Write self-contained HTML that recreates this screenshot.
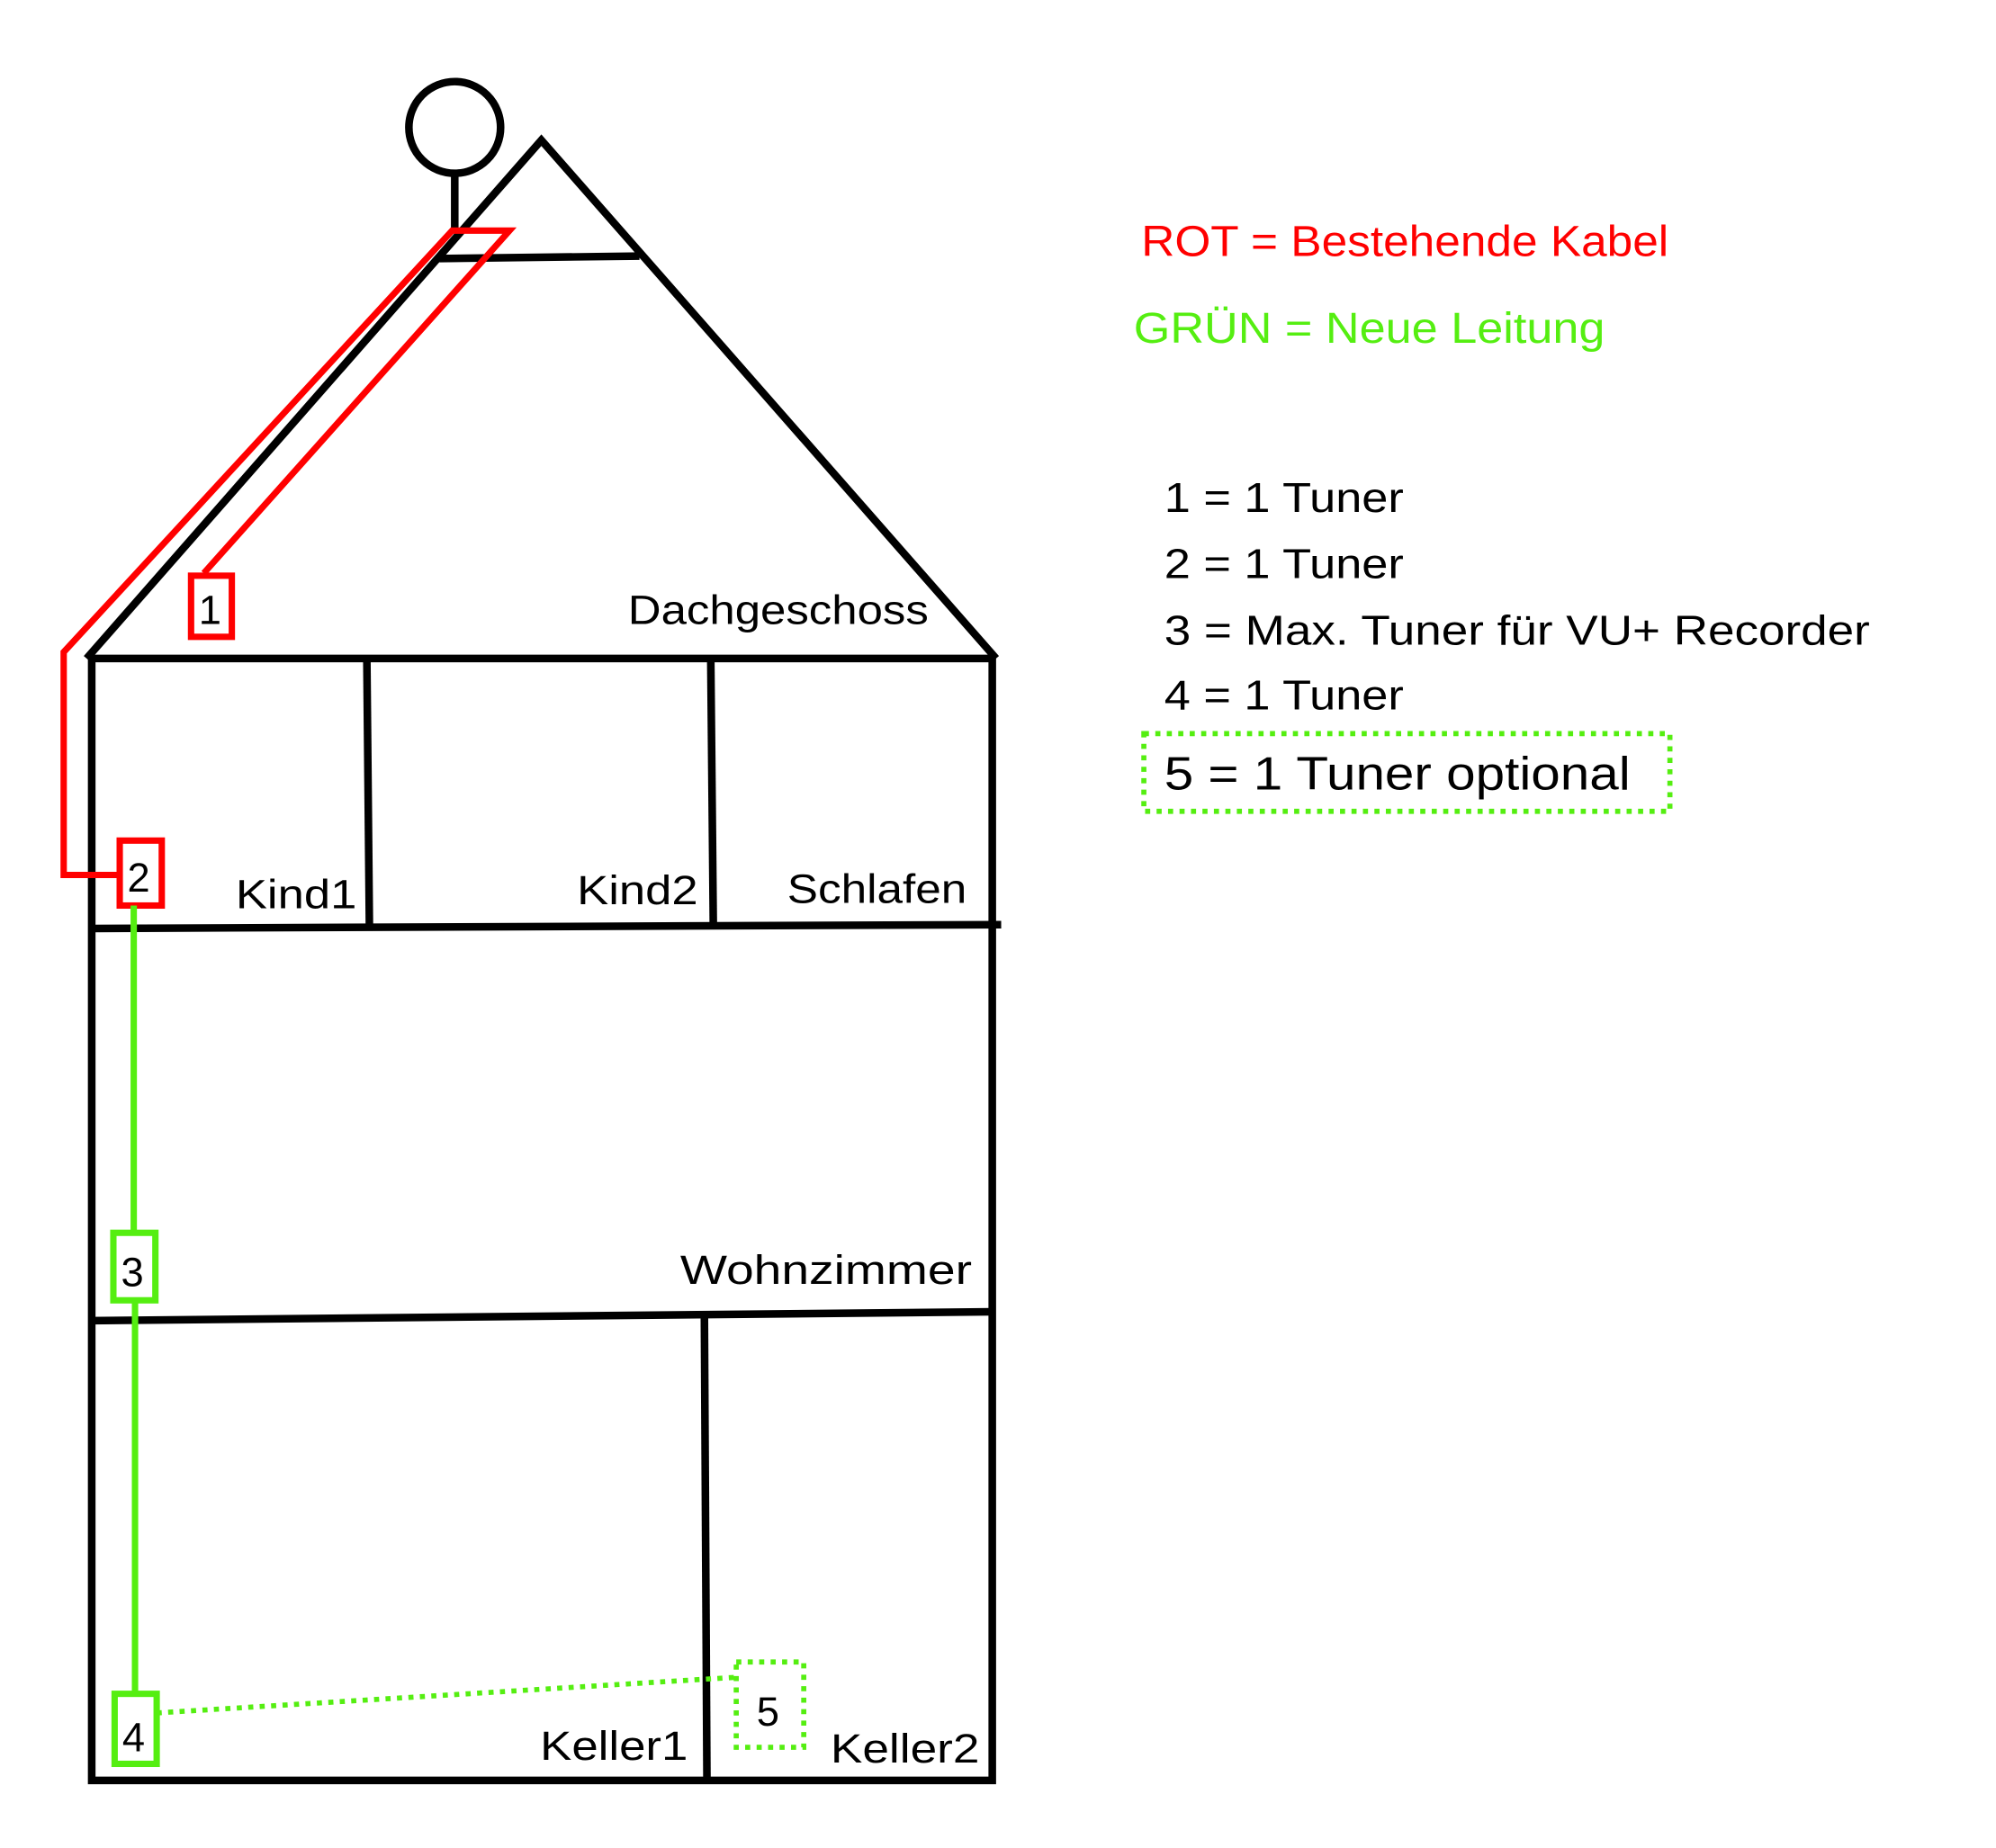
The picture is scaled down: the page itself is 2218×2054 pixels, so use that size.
<!DOCTYPE html>
<html><head><meta charset="utf-8"><style>html,body{margin:0;padding:0;background:#fff}svg{display:block}</style></head>
<body>
<svg width="2218" height="2054" viewBox="0 0 1567 1451" xmlns="http://www.w3.org/2000/svg" font-family="'Liberation Sans', 'DejaVu Sans', sans-serif">
<rect width="1567" height="1451" fill="#fff"/>
<g fill="none" stroke="#000" stroke-width="6">
<circle cx="357" cy="100" r="36"/>
<line x1="357" y1="136" x2="357" y2="182"/>
<polyline points="68,517 425,110 782,517"/>
<line x1="345" y1="203" x2="502" y2="201"/>
<rect x="72" y="517" width="707" height="881"/>
<line x1="72" y1="729" x2="786" y2="726"/>
<line x1="72" y1="1037" x2="779" y2="1030"/>
<line x1="288" y1="517" x2="290" y2="727"/>
<line x1="558" y1="517" x2="560" y2="727"/>
<line x1="553" y1="1035" x2="555" y2="1398"/>
</g>
<g fill="none" stroke="#f00" stroke-width="5">
<polyline points="160,450 400,181 355,181 50,512 50,687 95,687"/>
<rect x="150" y="452" width="32" height="48"/>
<rect x="94" y="660" width="33" height="51"/>
</g>
<g fill="none" stroke="#55ee11" stroke-width="5">
<line x1="105" y1="711" x2="105" y2="968"/>
<rect x="89" y="968" width="33" height="53"/>
<line x1="106" y1="1021" x2="106" y2="1330"/>
<rect x="90" y="1330" width="33" height="55"/>
</g>
<g fill="none" stroke="#55ee11" stroke-width="4" stroke-dasharray="4,5">
<line x1="123" y1="1345" x2="578" y2="1317"/>
<rect x="578" y="1305" width="53" height="67"/>
<rect x="898" y="576" width="413" height="61"/>
</g>
<g font-size="32" fill="#000">
<text x="156" y="490">1</text>
<text x="100" y="700">2</text>
<text x="95" y="1010">3</text>
<text x="96" y="1375">4</text>
<text x="594" y="1355">5</text>
<text x="493" y="490" textLength="236" lengthAdjust="spacingAndGlyphs">Dachgeschoss</text>
<text x="185" y="713" textLength="95" lengthAdjust="spacingAndGlyphs">Kind1</text>
<text x="453" y="710" textLength="95" lengthAdjust="spacingAndGlyphs">Kind2</text>
<text x="618" y="709" textLength="141" lengthAdjust="spacingAndGlyphs">Schlafen</text>
<text x="534" y="1008" textLength="229" lengthAdjust="spacingAndGlyphs">Wohnzimmer</text>
<text x="424" y="1382" textLength="116" lengthAdjust="spacingAndGlyphs">Keller1</text>
<text x="652" y="1384" textLength="117" lengthAdjust="spacingAndGlyphs">Keller2</text>
</g>
<text x="896" y="201" font-size="34" fill="#f00" textLength="414" lengthAdjust="spacingAndGlyphs">ROT = Bestehende Kabel</text>
<text x="890" y="269" font-size="34" fill="#55ee11" textLength="370" lengthAdjust="spacingAndGlyphs">GRÜN = Neue Leitung</text>
<g font-size="33" fill="#000">
<text x="914" y="402" textLength="188" lengthAdjust="spacingAndGlyphs">1 = 1 Tuner</text>
<text x="914" y="454" textLength="188" lengthAdjust="spacingAndGlyphs">2 = 1 Tuner</text>
<text x="914" y="506" textLength="554" lengthAdjust="spacingAndGlyphs">3 = Max. Tuner für VU+ Recorder</text>
<text x="914" y="557" textLength="188" lengthAdjust="spacingAndGlyphs">4 = 1 Tuner</text>
<text x="914" y="620" font-size="37" textLength="366" lengthAdjust="spacingAndGlyphs">5 = 1 Tuner optional</text>
</g>
</svg>
</body></html>
